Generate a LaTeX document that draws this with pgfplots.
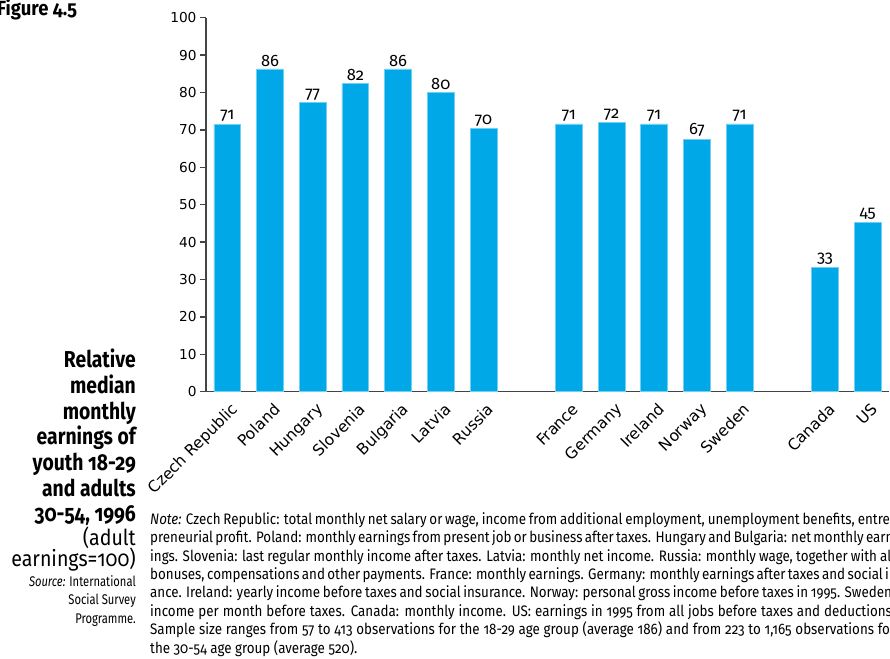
\documentclass[border=0pt]{standalone}
\usepackage{fontspec}
\setmainfont{Fira Sans}[Numbers=OldStyle, FakeStretch=0.88]
\newfontfamily\titlefont{Fira Sans}[Numbers=OldStyle, FakeStretch=0.84]
\newfontfamily\figfont{Fira Sans}[Numbers=OldStyle, FakeStretch=0.90]
\newfontfamily\subfont{Fira Sans}[Numbers=OldStyle, FakeStretch=0.89]
\newfontfamily\srcfont{Fira Sans}[Numbers=OldStyle, FakeStretch=0.80]
\newfontfamily\valfont{Fira Sans}[Numbers=OldStyle]
\newfontfamily\tickfont{DejaVu Sans}
\usepackage{pgfplots}
\usepackage{pgfplotstable}
\pgfplotsset{compat=1.18}
\definecolor{barc}{HTML}{00A8E8}
\definecolor{axc}{HTML}{444444}
\pgfplotstableread{
x y lab
0 71.5 71
1 86.3 86
2 77.3 77
3 82.4 82
4 86.3 86
5 80.1 80
6 70.3 70
8 71.6 71
9 72.0 72
10 71.6 71
11 67.5 67
12 71.6 71
14 33.3 33
15 45.3 45
}\data
\begin{document}
\begin{tikzpicture}
\useasboundingbox (0pt,0pt) rectangle (890pt,658pt);
\begin{axis}[
  at={(206pt,266.3pt)}, anchor=south west,
  scale only axis, width=683pt, height=374pt,
  xmin=-0.5, xmax=15.5, ymin=0, ymax=100,
  axis x line*=bottom, axis y line*=left,
  axis line style={axc, line width=1.6pt},
  every tick/.style={axc, line width=1.4pt},
  tick align=outside,
  ytick={0,10,...,100},
  major tick length=6pt,
  xtick={0,1,2,3,4,5,6,8,9,10,11,12,14,15},
  xticklabels={Czech Republic,Poland,Hungary,Slovenia,Bulgaria,Latvia,Russia,France,Germany,Ireland,Norway,Sweden,Canada,US},
  x tick style={draw=none},
  minor xtick={-0.5,0.5,...,15.5},
  minor x tick style={axc, line width=1.4pt},
  minor tick length=6pt,
  /pgf/number format/assume math mode=true,
  y tick label style={font=\tickfont\fontsize{13.7}{16}\selectfont},
  x tick label style={font=\tickfont\fontsize{15.6}{17}\selectfont, rotate=45, anchor=north east, yshift=-4pt, inner sep=1pt},
  ybar, bar width=0.63,
  nodes near coords,
  point meta=explicit symbolic,
  every node near coord/.append style={font=\valfont\fontsize{16.5}{18}\selectfont, text=black, inner sep=2pt},
  clip=false,
]
\addplot[fill=barc, draw=barc!55!white, line width=0.8pt] table[x=x, y=y, meta=lab] {\data};
\end{axis}
\node[anchor=base west, inner sep=0pt, font=\figfont\bfseries\fontsize{20.5}{22}\selectfont] at (-3pt,642pt) {Figure 4.5};
\node[anchor=base east, align=right, inner sep=0pt, font=\titlefont\bfseries\fontsize{23}{25.7}\selectfont] at (136pt,136.1pt) {Relative\\median\\monthly\\earnings of\\youth 18-29\\and adults\\30-54, 1996};
\node[anchor=base east, align=right, inner sep=0pt, font=\subfont\fontsize{22}{22}\selectfont] at (136pt,113pt) {(adult};
\node[anchor=base east, align=right, inner sep=0pt, font=\subfont\fontsize{22}{22}\selectfont] at (136pt,91.3pt) {earnings=100)};
\node[anchor=base east, align=right, inner sep=0pt, font=\srcfont\fontsize{14}{18.2}\selectfont] at (136pt,35pt) {\textit{Source:} International\\Social Survey\\Programme.};
\node[anchor=base west, inner sep=0pt, align=left, font=\fontsize{15.2}{18.4}\selectfont] at (150pt,5pt) {%
\makebox[745pt][s]{\textit{Note:} Czech Republic: total monthly net salary or wage, income from additional employment, unemployment benefits, entre-}\\
\makebox[745pt][s]{preneurial profit. Poland: monthly earnings from present job or business after taxes. Hungary and Bulgaria: net monthly earn-}\\
\makebox[745pt][s]{ings. Slovenia: last regular monthly income after taxes. Latvia: monthly net income. Russia: monthly wage, together with all}\\
\makebox[745pt][s]{bonuses, compensations and other payments. France: monthly earnings. Germany: monthly earnings after taxes and social insur-}\\
\makebox[745pt][s]{ance. Ireland: yearly income before taxes and social insurance. Norway: personal gross income before taxes in 1995. Sweden:}\\
\makebox[745pt][s]{income per month before taxes. Canada: monthly income. US: earnings in 1995 from all jobs before taxes and deductions.}\\
\makebox[745pt][s]{Sample size ranges from 57 to 413 observations for the 18-29 age group (average 186) and from 223 to 1,165 observations for}\\
the 30-54 age group (average 520).};
\end{tikzpicture}
\end{document}
